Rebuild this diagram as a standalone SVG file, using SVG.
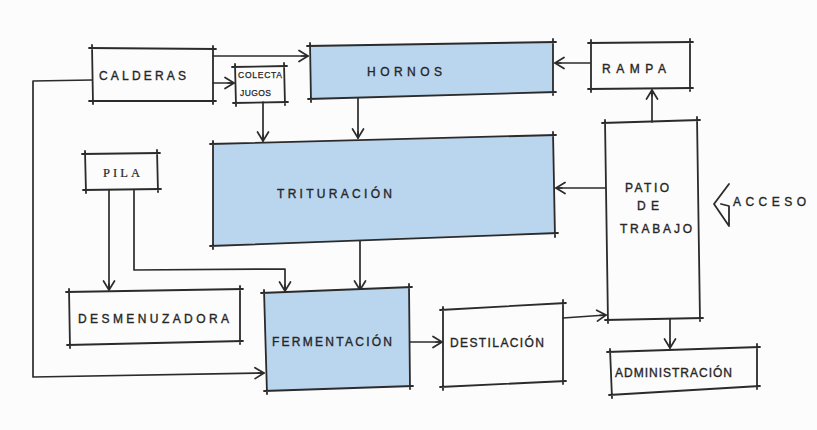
<svg xmlns="http://www.w3.org/2000/svg" width="817" height="430" viewBox="0 0 817 430">
<style>
.bg{fill:#fcfcfc}
.fill{fill:#bad6ef;stroke:none}
.edge{fill:none;stroke:#2b2b2b;stroke-width:1.8;stroke-linecap:round;stroke-linejoin:round}
.conn{fill:none;stroke:#2b2b2b;stroke-width:1.7;stroke-linecap:round;stroke-linejoin:round}
.lbl{font-family:"Liberation Sans",Arial,sans-serif;font-size:12px;fill:#262626;stroke:#262626;stroke-width:0.35;letter-spacing:1px}
.sm{font-size:8.5px;stroke-width:0.25}
.serif{font-family:"Liberation Serif","Times New Roman",serif;font-size:12.5px;letter-spacing:2px;stroke-width:0.2}
</style>
<defs>
<marker id="arr" markerUnits="userSpaceOnUse" markerWidth="14" markerHeight="14" refX="11" refY="7" orient="auto">
<path d="M2,1.5 L11,7 L2,12.5 M5,7 L11,7" fill="none" stroke="#2b2b2b" stroke-width="1.7" stroke-linejoin="round" stroke-linecap="round"/>
</marker>
</defs>
<rect class="bg" x="0" y="0" width="817" height="430"/>

<g id="connectors">
<path class="conn" d="M213,56 L308,56" marker-end="url(#arr)"/>
<path class="conn" d="M213,83 L234,83" marker-end="url(#arr)"/>
<path class="conn" d="M263,102 L263,141" marker-end="url(#arr)"/>
<path class="conn" d="M358,98 L358,138" marker-end="url(#arr)"/>
<path class="conn" d="M590,63 L555,63" marker-end="url(#arr)"/>
<path class="conn" d="M652,122 L652,90" marker-end="url(#arr)"/>
<path class="conn" d="M605,188 L556,188" marker-end="url(#arr)"/>
<path class="conn" d="M360,240 L360,290" marker-end="url(#arr)"/>
<path class="conn" d="M109,190 L109,290" marker-end="url(#arr)"/>
<path class="conn" d="M134,190 L134,270 L285,269 L285,291" marker-end="url(#arr)"/>
<path class="conn" d="M92,80 L33,81 L33,377 L264,373" marker-end="url(#arr)"/>
<path class="conn" d="M409,342 L442,342" marker-end="url(#arr)"/>
<path class="conn" d="M563,318 L606,315" marker-end="url(#arr)"/>
<path class="conn" d="M670,319 L670,348" marker-end="url(#arr)"/>
</g>

<g id="calderas">
<path class="edge" d="M89,48 L216,49 M213,46 L213,104 M216,101 L89,101 M92,45 L93,104"/>
<text class="lbl" x="99" y="80" textLength="88" lengthAdjust="spacing">CALDERAS</text>
</g>

<g id="colecta-jugos">
<path class="edge" d="M232,67 L287,66 M284,63 L285,105 M288,102 L233,103 M235,64 L236,106"/>
<text class="lbl sm" x="238" y="78" textLength="45" lengthAdjust="spacing">COLECTA</text>
<text class="lbl sm" x="240" y="96" textLength="32" lengthAdjust="spacing">JUGOS</text>
</g>

<g id="hornos">
<path class="fill" d="M310,46 L553,42 L553,92 L311,99 Z"/>
<path class="edge" d="M307,46 L556,42 M553,39 L553,95 M556,92 L308,99 M310,43 L311,102"/>
<text class="lbl" x="367" y="76" textLength="76" lengthAdjust="spacing">HORNOS</text>
</g>

<g id="rampa">
<path class="edge" d="M588,43 L693,42 M690,39 L690,91 M693,88 L588,89 M591,40 L591,92"/>
<text class="lbl" x="602" y="73" textLength="65" lengthAdjust="spacing">RAMPA</text>
</g>

<g id="trituracion">
<path class="fill" d="M213,144 L553,135 L555,233 L213,246 Z"/>
<path class="edge" d="M210,144 L556,135 M553,132 L555,237 M558,233 L210,246 M213,141 L213,249"/>
<text class="lbl" x="277" y="198" textLength="116" lengthAdjust="spacing">TRITURACIÓN</text>
</g>

<g id="pila">
<path class="edge" d="M82,154 L160,153 M157,150 L158,192 M161,189 L83,190 M85,151 L86,193"/>
<text class="lbl serif" x="103" y="177" textLength="39" lengthAdjust="spacing">PILA</text>
</g>

<g id="patio-de-trabajo">
<path class="edge" d="M602,123 L700,120 M697,117 L700,321 M703,318 L605,320 M605,120 L608,323"/>
<text class="lbl" x="625" y="192" textLength="45" lengthAdjust="spacing">PATIO</text>
<text class="lbl" x="637" y="210" textLength="23" lengthAdjust="spacing">DE</text>
<text class="lbl" x="620" y="233" textLength="73" lengthAdjust="spacing">TRABAJO</text>
</g>

<g id="acceso">
<path class="edge" d="M729,184 L714,204 L729,226 L729,206 L721,204"/>
<text class="lbl" x="733" y="206" textLength="74" lengthAdjust="spacing">ACCESO</text>
</g>

<g id="desmenuzadora">
<path class="edge" d="M66,292 L243,289 M240,286 L240,344 M243,341 L67,345 M69,289 L70,348"/>
<text class="lbl" x="78" y="323" textLength="152" lengthAdjust="spacing">DESMENUZADORA</text>
</g>

<g id="fermentacion">
<path class="fill" d="M264,293 L409,287 L410,386 L267,391 Z"/>
<path class="edge" d="M261,293 L412,287 M409,284 L410,389 M413,386 L264,391 M264,290 L267,394"/>
<text class="lbl" x="272" y="346" textLength="121" lengthAdjust="spacing">FERMENTACIÓN</text>
</g>

<g id="destilacion">
<path class="edge" d="M440,310 L566,303 M563,300 L563,384 M566,381 L440,387 M443,307 L443,390"/>
<text class="lbl" x="450" y="347" textLength="95" lengthAdjust="spacing">DESTILACIÓN</text>
</g>

<g id="administracion">
<path class="edge" d="M607,352 L760,347 M757,344 L757,389 M760,386 L609,395 M610,349 L612,398"/>
<text class="lbl" x="615" y="377" textLength="118" lengthAdjust="spacing">ADMINISTRACIÓN</text>
</g>
</svg>
